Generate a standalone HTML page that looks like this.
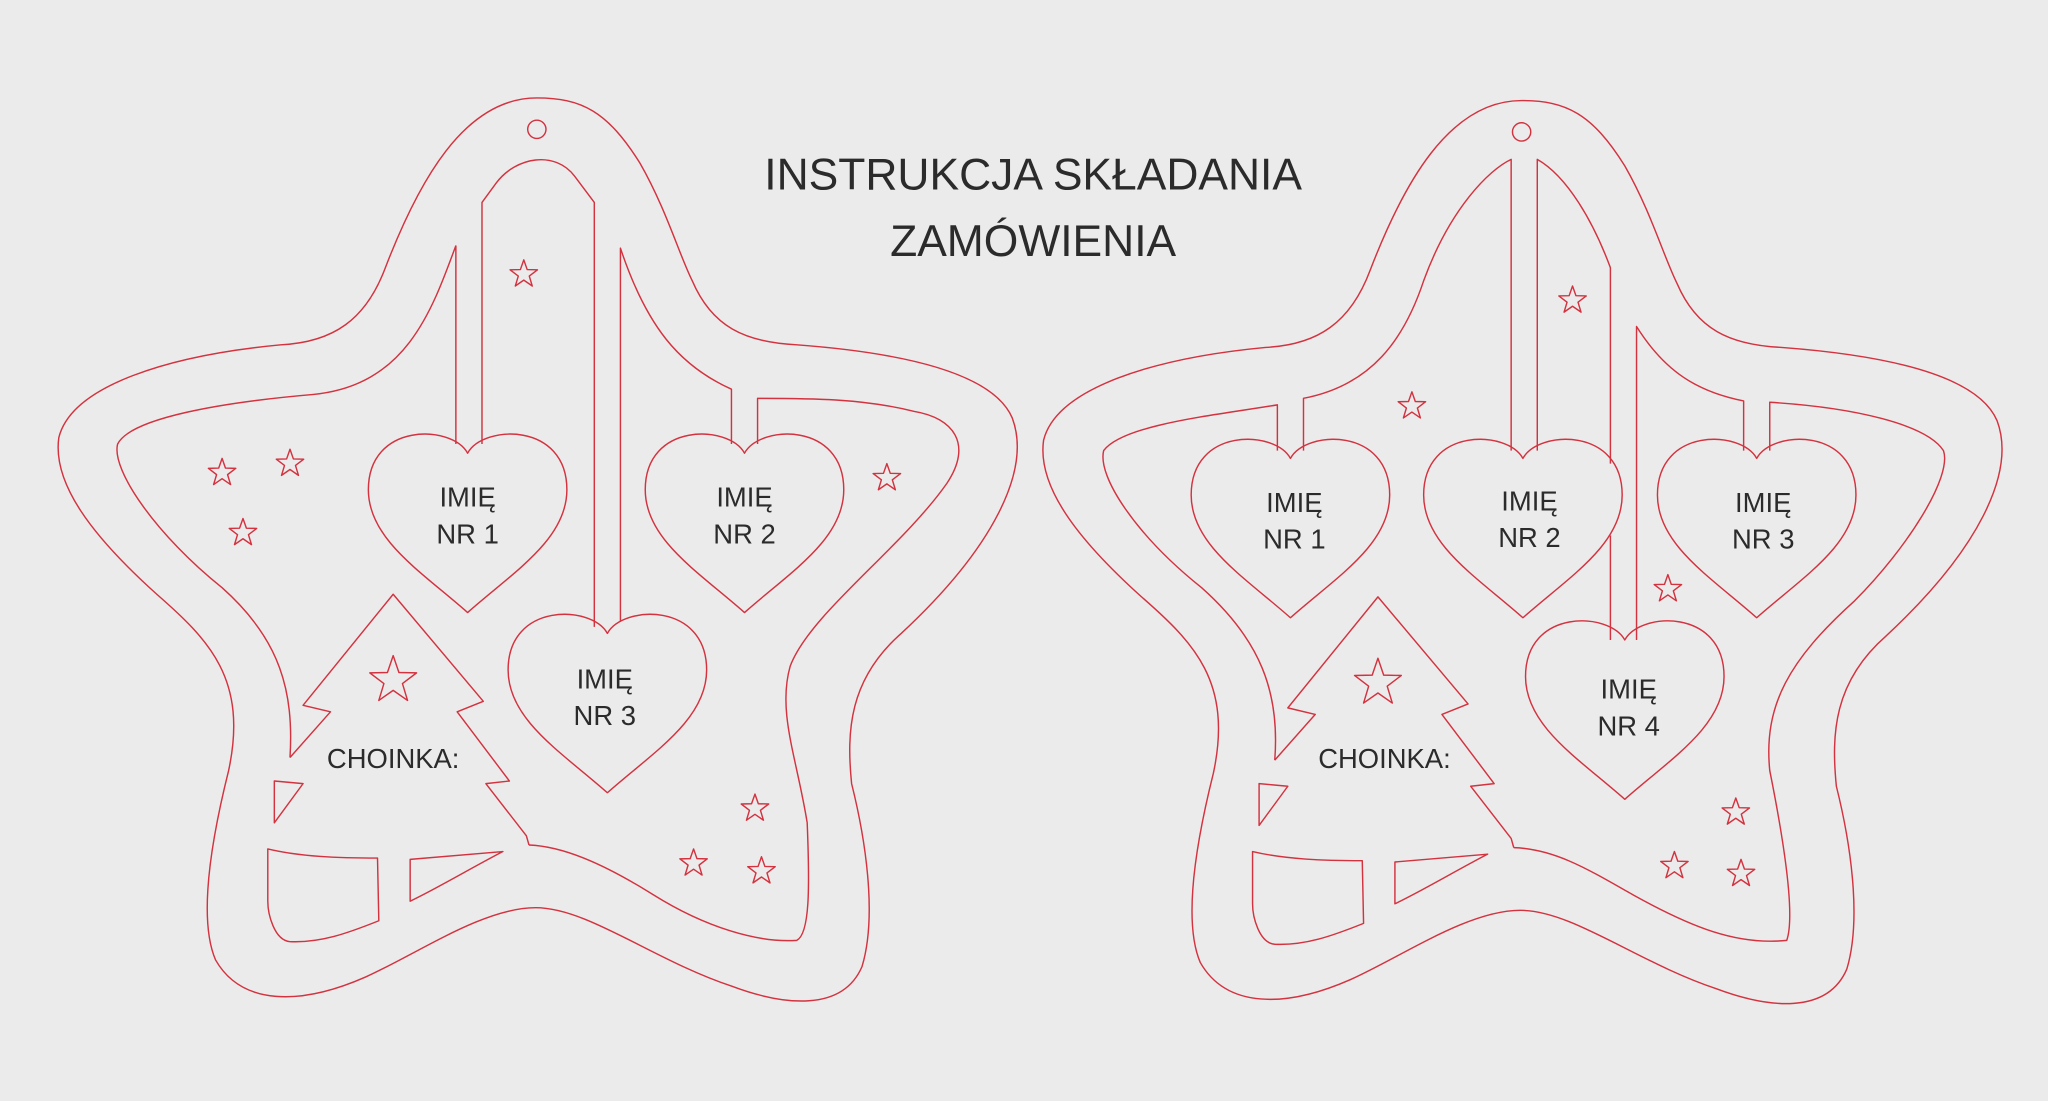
<!DOCTYPE html>
<html><head><meta charset="utf-8"><style>
html,body{margin:0;padding:0;background:#ebebeb;}
svg{display:block}
text{font-family:"Liberation Sans","DejaVu Sans",sans-serif;fill:#2b2b2b;text-anchor:middle}
.l{fill:none;stroke:#d3323f;stroke-width:1.1;stroke-linejoin:round}
</style></head><body>
<svg width="2048" height="1101" viewBox="0 0 1568 843" xmlns="http://www.w3.org/2000/svg">
<defs>
<path id="heart" d="M0,-36 C-12,-58 -76,-60 -76,-8 C-76,30 -35,55 0,86 C35,55 76,30 76,-8 C76,-60 12,-58 0,-36 Z"/>
<polygon id="st" points="0,-11 2.6,-3.6 10.5,-3.4 4.2,1.4 6.5,9 0,4.5 -6.5,9 -4.2,1.4 -10.5,-3.4 -2.6,-3.6"/>
<polygon id="bst" points="0,-19 4.4,-6.1 17.9,-5.8 7.1,2.4 11,15.3 0,7.6 -11,15.3 -7.1,2.4 -17.9,-5.8 -4.4,-6.1"/>
<path id="outer" d="M411,75 C445,75 465,85 490,125 C510,160 520,195 530,215 C545,250 570,262 610,264 C690,270 760,285 775,320 C790,360 760,420 690,485 C650,520 648,560 652,600 C662,640 672,700 660,740 C645,775 600,770 560,755 C500,735 450,695 410,695 C370,695 320,730 280,748 C230,770 185,770 165,735 C150,700 165,630 175,590 C190,520 160,490 120,455 C70,410 40,370 45,335 C55,295 130,272 215,264 C255,262 280,245 295,205 C320,140 355,75 411,75 Z"/>
<path id="tree" d="M222,580 L253,545 L232,540 L301,455 L370,537 L350,545 L390,598 L372,600 L403,640 L405,647"/>
<path id="boxes" d="M210,598 L232,600 L210,630 Z M205,650 C230,656 260,657 289,657 L290,705 C265,715 245,722 222,721 C210,720 205,700 205,690 Z M314,658 L385,652 C360,665 335,680 314,690 Z"/>
</defs>

<text x="791" y="145" font-size="34">INSTRUKCJA SKŁADANIA</text>
<text x="791" y="196" font-size="34">ZAMÓWIENIA</text>

<g class="l">
<use href="#outer"/>
<circle cx="411" cy="99" r="7"/>
<path d="M349,188 L349,340 M349,188 C330,240 310,295 240,302 C170,308 100,320 90,340 C85,360 120,410 170,450 C215,490 225,530 222,580"/>
<use href="#tree"/>
<use href="#boxes"/>
<path d="M405,647 C430,648 460,660 500,685 C540,710 580,722 610,720 C620,715 620,680 618,630 C610,580 595,545 605,510 C620,470 690,420 725,370 C745,340 730,320 700,315 C660,305 620,305 580,305 L580,340"/>
<path d="M560,340 L560,298 C520,280 495,250 475,190 L475,476"/>
<path d="M369,340 L369,155 L380,140 C395,120 425,115 440,135 L455,155 L455,480"/>
<use href="#heart" x="358" y="383"/>
<use href="#heart" x="570" y="383"/>
<use href="#heart" x="465" y="521"/>
<use href="#st" x="401" y="210"/><use href="#st" x="170" y="362"/><use href="#st" x="222" y="355"/>
<use href="#st" x="186" y="408"/><use href="#st" x="679" y="366"/><use href="#bst" x="301" y="521"/>
<use href="#st" x="578" y="619"/><use href="#st" x="531" y="661"/><use href="#st" x="583" y="667"/>
</g>
<text x="358" y="388" font-size="21">IMIĘ</text><text x="358" y="416" font-size="21">NR 1</text>
<text x="570" y="388" font-size="21">IMIĘ</text><text x="570" y="416" font-size="21">NR 2</text>
<text x="463" y="527" font-size="21">IMIĘ</text><text x="463" y="555" font-size="21">NR 3</text>
<text x="301" y="588" font-size="21">CHOINKA:</text>

<g class="l" transform="translate(754,2)">
<use href="#outer"/>
<circle cx="411" cy="99" r="7"/>
<use href="#tree"/>
<use href="#boxes"/>
</g>
<g class="l">
<path d="M978,345 L978,310 C930,318 860,325 845,345 C840,365 870,410 920,450 C965,490 980,530 976,582"/>
<path d="M998,345 L998,305 C1050,295 1075,260 1090,215 C1110,160 1140,130 1157,122 L1157,345"/>
<path d="M1177,345 L1177,122 C1200,135 1220,170 1233,205 L1233,355"/>
<path d="M1233,410 L1233,490 M1253,490 L1253,250 C1275,285 1300,300 1335,307 L1335,345 M1355,345 L1355,308 C1420,312 1475,325 1488,345 C1495,365 1460,420 1420,460 C1370,505 1350,540 1355,590 C1365,640 1375,700 1368,720 C1330,724 1295,710 1250,685 C1215,665 1190,650 1159,649"/>
<use href="#heart" x="988" y="387"/>
<use href="#heart" x="1166" y="387"/>
<use href="#heart" x="1345" y="387"/>
<use href="#heart" x="1244" y="526"/>
<use href="#st" x="1204" y="230"/><use href="#st" x="1081" y="311"/><use href="#st" x="1277" y="451"/>
<use href="#bst" x="1055" y="523"/>
<use href="#st" x="1329" y="622"/><use href="#st" x="1282" y="663"/><use href="#st" x="1333" y="669"/>
</g>
<text x="991" y="392" font-size="21">IMIĘ</text><text x="991" y="420" font-size="21">NR 1</text>
<text x="1171" y="391" font-size="21">IMIĘ</text><text x="1171" y="419" font-size="21">NR 2</text>
<text x="1350" y="392" font-size="21">IMIĘ</text><text x="1350" y="420" font-size="21">NR 3</text>
<text x="1247" y="535" font-size="21">IMIĘ</text><text x="1247" y="563" font-size="21">NR 4</text>
<text x="1060" y="588" font-size="21">CHOINKA:</text>
</svg>
</body></html>
